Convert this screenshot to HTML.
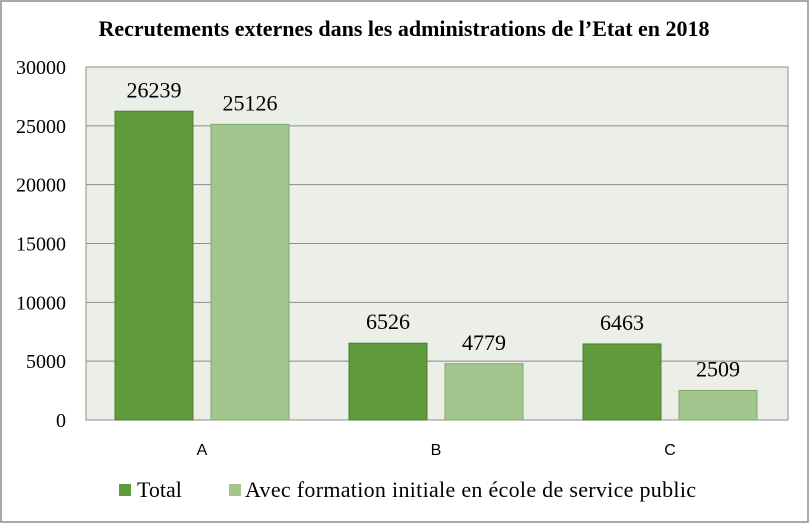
<!DOCTYPE html>
<html><head><meta charset="utf-8"><style>
body{margin:0;background:#fff;}
svg{display:block;font-family:"Liberation Serif",serif;}
</style></head><body>
<svg id="chart" width="809" height="523">
<rect x="1" y="1" width="807" height="521" fill="#fff" stroke="#8c8c8c" stroke-width="1.5"/>
<text x="404" y="36" text-anchor="middle" font-size="22" font-weight="bold">Recrutements externes dans les administrations de l’Etat en 2018</text>
<rect x="86" y="67" width="702" height="353" fill="#ebefe8" stroke="#8c8c8c"/>
<g id="grid"></g><g id="bars"></g><g id="labels"></g>
<g>
<rect x="119" y="484" width="12" height="12" fill="#5f9a3c"/>
<text x="137" y="497" font-size="22">Total</text>
<rect x="229" y="484" width="12" height="12" fill="#a3c68e"/>
<text x="245" y="497" font-size="22" textLength="451">Avec formation initiale en école de service public</text>
</g>
</svg>
<script>
const categories=["A","B","C"];
const totalValues=[26239,6526,6463];
const formationValues=[25126,4779,2509];
const yTicks=[0,5000,10000,15000,20000,25000,30000];
const NS="http://www.w3.org/2000/svg";
const L=86,R=788,T=67,B=420,yMax=30000;
const y=v=>B-(v/yMax)*(B-T);
const bw=(R-L)/categories.length;
const cx=i=>L+bw*(i+0.5)-1;
function mk(tag,attrs,parent,txt){const e=document.createElementNS(NS,tag);for(const k in attrs)e.setAttribute(k,attrs[k]);if(txt!==undefined)e.textContent=txt;document.getElementById(parent).appendChild(e);return e;}
yTicks.forEach(t=>{
  if(t>0&&t<yMax){const g=mk("line",{x1:L,x2:R,y1:y(t),y2:y(t),stroke:"#8c8c8c"},"grid");
  
  }
  const l=mk("text",{x:66,y:y(t)+7,"text-anchor":"end","font-size":"20"},"labels",String(t));
  
  
});
const W=78,gap=18;
categories.forEach((c,i)=>{
  const x1=cx(i)-gap/2-W, x2=cx(i)+gap/2;
  const b1=mk("rect",{x:x1,y:y(totalValues[i]),width:W,height:B-y(totalValues[i]),fill:"#5f9a3c",stroke:"#4d7f30"},"bars");
  
  
  const b2=mk("rect",{x:x2,y:y(formationValues[i]),width:W,height:B-y(formationValues[i]),fill:"#a3c68e",stroke:"#7fa86a"},"bars");
  
  
  const v1=mk("text",{x:x1+W/2,y:y(totalValues[i])-14,"text-anchor":"middle","font-size":"22"},"labels",String(totalValues[i]));
  
  
  const v2=mk("text",{x:x2+W/2,y:y(formationValues[i])-14,"text-anchor":"middle","font-size":"22"},"labels",String(formationValues[i]));
  
  
  const cl=mk("text",{x:cx(i),y:455,"text-anchor":"middle","font-size":"16","font-family":"Liberation Sans, sans-serif"},"labels",c);
  
  
});
</script>
</body></html>
